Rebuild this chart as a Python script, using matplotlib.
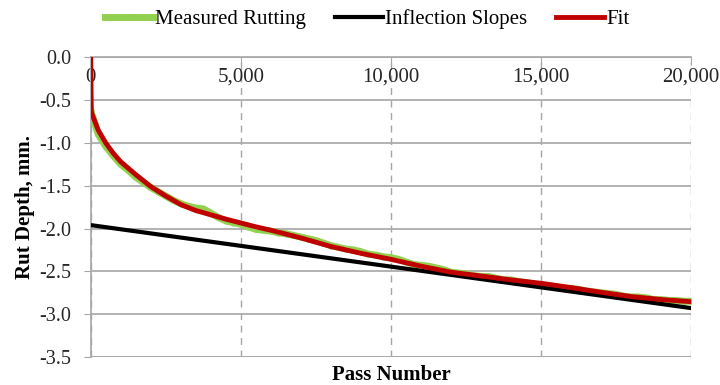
import numpy as np
import matplotlib.pyplot as plt

plt.rcParams['font.family'] = ['Liberation Serif', 'DejaVu Serif']
plt.rcParams['axes.unicode_minus'] = False

# measured rut depth, every 250 passes
passes = np.arange(0, 20001, 250)
measured = [-0.62, -0.90, -1.04, -1.15, -1.25, -1.32, -1.40, -1.46, -1.52, -1.57,
            -1.62, -1.67, -1.71, -1.74, -1.76, -1.77, -1.82, -1.87, -1.91, -1.93,
            -1.95, -1.98, -2.01, -2.02, -2.03, -2.05, -2.06, -2.08, -2.10, -2.12,
            -2.14, -2.17, -2.20, -2.22, -2.24, -2.25, -2.27, -2.30, -2.31, -2.33,
            -2.34, -2.36, -2.39, -2.42, -2.43, -2.44, -2.46, -2.48, -2.51, -2.52,
            -2.53, -2.55, -2.56, -2.56, -2.58, -2.60, -2.60, -2.62, -2.63, -2.65,
            -2.66, -2.67, -2.68, -2.70, -2.70, -2.71, -2.73, -2.74, -2.75, -2.76,
            -2.77, -2.79, -2.80, -2.80, -2.81, -2.83, -2.83, -2.84, -2.84, -2.85,
            -2.85]

# fitted curve
fit_passes = [0, 20, 250, 500, 750, 1000, 1500, 2000, 2500, 3000, 3500, 4000, 4500,
              5000, 5500, 6000, 7000, 8000, 9000, 10000, 11000, 12000, 13000, 14000,
              15000, 16000, 17000, 18000, 19000, 20000]
fit_depth = [0.0, -0.64, -0.85, -1.00, -1.12, -1.22, -1.37, -1.51, -1.62, -1.72, -1.79,
             -1.84, -1.89, -1.935, -1.98, -2.02, -2.11, -2.21, -2.29, -2.36, -2.44,
             -2.51, -2.555, -2.60, -2.64, -2.69, -2.745, -2.795, -2.83, -2.855]

# inflection slope line
slope_passes = [0, 20000]
slope_depth = [-1.96, -2.93]

xticks = [0, 5000, 10000, 15000, 20000]
xtick_labels = ['0', '5,000', '10,000', '15,000', '20,000']
yticks = [0.0, -0.5, -1.0, -1.5, -2.0, -2.5, -3.0, -3.5]

grid_col = '#a6a6a6'
txt_col = '#262626'

fig = plt.figure(figsize=(7.2, 3.85), dpi=100)
ax = fig.add_axes([0.126, 0.073, 0.834, 0.778])

ax.plot(passes, measured, color='#92d050', lw=5, marker='o', ms=4.5, mew=0,
        label='Measured Rutting', zorder=3)
ax.plot(slope_passes, slope_depth, color='black', lw=3, label='Inflection Slopes', zorder=4)
ax.plot(fit_passes, fit_depth, color='#c00000', lw=3.5, label='Fit', zorder=5)

ax.set_xlim(0, 20000)
ax.set_ylim(-3.5, 0.0)

ax.set_yticks(yticks)
ax.set_yticklabels([f'{v:.1f}' for v in yticks], fontsize=14.5, color=txt_col)
ax.set_xticks(xticks)
ax.set_xticklabels(xtick_labels, fontsize=15, color=txt_col)

# x labels sit just under the zero line, as in a spreadsheet chart
ax.tick_params(axis='x', bottom=False, labelbottom=False, top=True, labeltop=True,
               direction='in', length=6, color=grid_col, pad=-21)
ax.tick_params(axis='y', direction='out', length=5, color=grid_col, pad=9)

ax.yaxis.grid(True, color=grid_col, lw=1.2)
ax.xaxis.grid(True, color=grid_col, lw=1, ls=(0, (5, 4)))
ax.set_axisbelow(True)

for s in ['right', 'bottom']:
    ax.spines[s].set_visible(False)
ax.spines['left'].set_color(grid_col)
ax.spines['left'].set_linewidth(1.2)
ax.spines['top'].set_color(grid_col)
ax.spines['top'].set_linewidth(1.2)
ax.axhline(-3.5, color=grid_col, lw=1.2, zorder=1)

ax.set_ylabel('Rut Depth, mm.', fontsize=15, fontweight='bold', labelpad=3)
ax.set_xlabel('Pass Number', fontsize=15, fontweight='bold', labelpad=6)

fig.legend(loc='upper center', bbox_to_anchor=(0.51, 1.025), ncol=3, frameon=False,
           fontsize=15, handlelength=2.3, handletextpad=0.1, columnspacing=1.4)

fig.savefig('out.png', dpi=100)
